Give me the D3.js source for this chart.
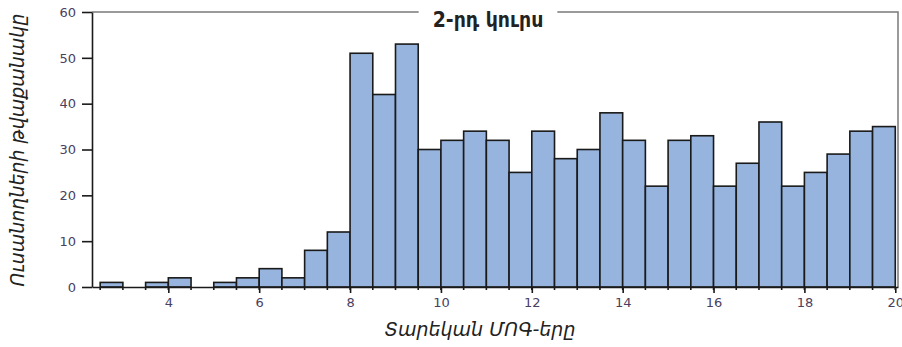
<!DOCTYPE html>
<html>
<head>
<meta charset="utf-8">
<script src="https://cdn.jsdelivr.net/npm/d3@7"></script>
<style>
  body { margin: 0; background: #fff; }
  svg { display: block; }
</style>
</head>
<body>
<div id="chart"></div>
<script>
// bin start values (width 0.5) and counts
const binStarts = [2.5, 3, 3.5, 4, 4.5, 5, 5.5, 6, 6.5, 7, 7.5, 8, 8.5, 9, 9.5, 10, 10.5, 11, 11.5, 12,
  12.5, 13, 13.5, 14, 14.5, 15, 15.5, 16, 16.5, 17, 17.5, 18, 18.5, 19, 19.5];
const counts = [1, 0, 1, 2, 0, 1, 2, 4, 2, 8, 12, 51, 42, 53, 30, 32, 34, 32, 25, 34,
  28, 30, 38, 32, 22, 32, 33, 22, 27, 36, 22, 25, 29, 34, 35];
const binWidth = 0.5;
const xTicks = [4, 6, 8, 10, 12, 14, 16, 18, 20];
const yTicks = [0, 10, 20, 30, 40, 50, 60];
const title = '2-րդ կուրս';
const xLabel = 'Տարեկան ՄՈԳ-երը';
const yLabel = 'Ուսանողների թվաքանակը';

const width = 902;
const height = 347;
const margin = { top: 12, right: 4, bottom: 60, left: 92 };

const svg = d3.select('#chart')
  .append('svg')
  .attr('width', width)
  .attr('height', height);

const x = d3.scaleLinear([2.32, 20.06], [margin.left, width - margin.right]);
const y = d3.scaleLinear([0, 60], [height - margin.bottom, margin.top]);

const data = binStarts.map((s, i) => ({ x0: s, x1: s + binWidth, n: counts[i] }));

// frame top and right (gray)
svg.append('path')
  .attr('d', `M${x.range()[0]},${y(60)} H${x.range()[1]} V${y(0)}`)
  .attr('fill', 'none')
  .attr('stroke', '#7a7a7a')
  .attr('stroke-width', 1.5);

// bars
svg.append('g')
  .selectAll('rect')
  .data(data.filter(d => d.n > 0))
  .join('rect')
  .attr('x', d => x(d.x0))
  .attr('y', d => y(d.n))
  .attr('width', d => x(d.x1) - x(d.x0))
  .attr('height', d => y(0) - y(d.n))
  .attr('fill', '#96b4dd')
  .attr('stroke', '#1a1a1a')
  .attr('stroke-width', 1.6);

// small ticks at bar edges below the axis
const edges = Array.from(new Set(data.filter(d => d.n > 0).flatMap(d => [d.x0, d.x1])));
svg.append('g')
  .selectAll('line')
  .data(edges)
  .join('line')
  .attr('x1', d => x(d)).attr('x2', d => x(d))
  .attr('y1', y(0)).attr('y2', y(0) + 3)
  .attr('stroke', '#1a1a1a')
  .attr('stroke-width', 1.6);

// x axis
const axisX = d3.axisBottom(x).tickValues(xTicks).tickSize(6).tickSizeOuter(0).tickPadding(5);
const gx = svg.append('g')
  .attr('transform', `translate(0, ${y(0)})`)
  .call(axisX);
gx.select('.domain').attr('stroke', '#1a1a1a').attr('stroke-width', 1.6);
gx.selectAll('.tick line').attr('stroke', '#1a1a1a').attr('stroke-width', 1.6);
gx.selectAll('.tick text')
  .attr('fill', '#4a4060')
  .style('font-family', 'DejaVu Sans')
  .style('font-size', '13px');

// y axis
const axisY = d3.axisLeft(y).tickValues(yTicks).tickSize(10).tickSizeOuter(0).tickPadding(6);
const gy = svg.append('g')
  .attr('transform', `translate(${margin.left}, 0)`)
  .call(axisY);
gy.select('.domain').attr('stroke', '#1a1a1a').attr('stroke-width', 1.6);
gy.selectAll('.tick line').attr('stroke', '#1a1a1a').attr('stroke-width', 1.6);
gy.selectAll('.tick text')
  .attr('fill', '#4a4060')
  .style('font-family', 'DejaVu Sans')
  .style('font-size', '13px');

// title with white box over the top frame line
const tg = svg.append('g');
const tt = tg.append('text')
  .attr('x', 488)
  .attr('y', 27)
  .attr('text-anchor', 'middle')
  .style('font-family', 'DejaVu Sans Condensed, DejaVu Sans')
  .style('font-weight', 'bold')
  .style('font-size', '21px')
  .attr('fill', '#222')
  .text(title);
const bb = tt.node().getBBox();
tg.insert('rect', 'text')
  .attr('x', bb.x - 14)
  .attr('y', 2)
  .attr('width', bb.width + 28)
  .attr('height', 20)
  .attr('fill', '#fff');

// axis labels
svg.append('text')
  .attr('x', 480)
  .attr('y', 336)
  .attr('text-anchor', 'middle')
  .style('font-family', 'DejaVu Sans')
  .style('font-style', 'italic')
  .style('font-size', '19px')
  .attr('fill', '#222')
  .text(xLabel);

svg.append('text')
  .attr('transform', 'translate(24, 150) rotate(-90)')
  .attr('text-anchor', 'middle')
  .style('font-family', 'DejaVu Sans')
  .style('font-style', 'italic')
  .style('font-size', '19px')
  .attr('fill', '#222')
  .text(yLabel);
</script>
</body>
</html>
